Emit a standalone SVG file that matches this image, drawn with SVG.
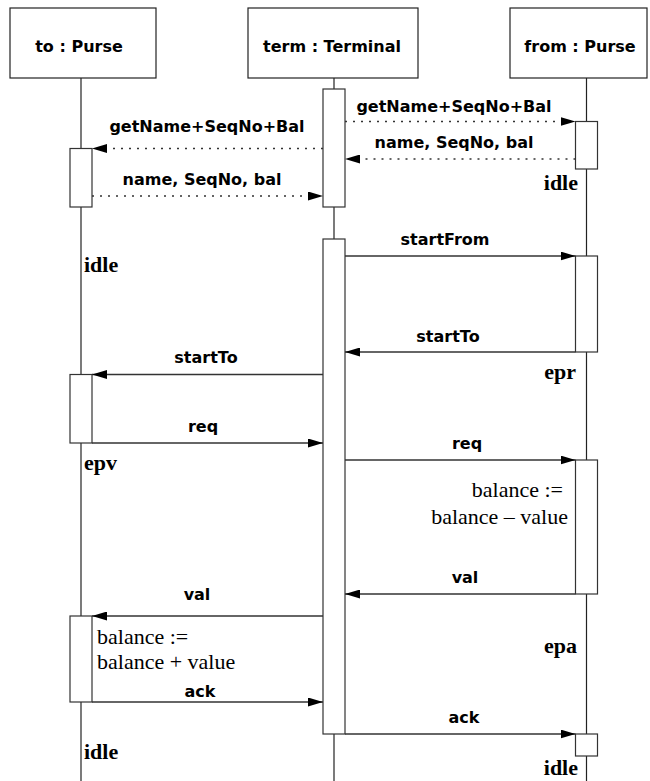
<svg xmlns="http://www.w3.org/2000/svg" width="650" height="781" viewBox="0 0 650 781">
  <defs>
    <marker id="arrow" viewBox="0 0 15 9" refX="15" refY="4.5" markerWidth="15" markerHeight="9" markerUnits="userSpaceOnUse" orient="auto">
      <path d="M0,0 L15,4.5 L0,9 z" fill="#000"/>
    </marker>
    <style>
      .head { fill: #fff; stroke: #222; stroke-width: 1.2; }
      .life { stroke: #222; stroke-width: 1.2; fill: none; }
      .act { fill: #fff; stroke: #333; stroke-width: 1.2; }
      .msg { stroke: #333; stroke-width: 1.3; fill: none; marker-end: url(#arrow); }
      .ret { stroke: #333; stroke-width: 1.3; fill: none; stroke-dasharray: 2 6; marker-end: url(#arrow); }
      .name { font-family: "DejaVu Sans", "Liberation Sans", sans-serif; font-weight: bold; font-size: 16px; fill: #000; text-anchor: middle; }
      .lbl { font-family: "DejaVu Sans", "Liberation Sans", sans-serif; font-weight: bold; font-size: 16px; fill: #000; text-anchor: middle; }
      .state { font-family: "Liberation Serif", "Times New Roman", serif; font-weight: bold; font-size: 22px; fill: #000; }
      .note { font-family: "Liberation Serif", "Times New Roman", serif; font-size: 22px; fill: #000; }
      .end { text-anchor: end; }
    </style>
  </defs>

  <rect width="650" height="781" fill="#fff"/>

  <!-- lifeline: to : Purse -->
  <g id="to">
    <rect class="head" x="10" y="8" width="146" height="70"/>
    <text class="name" x="79" y="52">to : Purse</text>
    <line class="life" x1="81" y1="78" x2="81" y2="781"/>
    <rect class="act" x="70" y="148.5" width="22" height="58.5"/>
    <rect class="act" x="70" y="374.5" width="22" height="68.5"/>
    <rect class="act" x="70" y="616" width="22" height="86"/>
    <text class="state" x="84" y="272">idle</text>
    <text class="state" x="84" y="470">epv</text>
    <text class="note" x="97" y="644">balance :=</text>
    <text class="note" x="97" y="669">balance + value</text>
    <text class="state" x="84" y="759">idle</text>
  </g>

  <!-- lifeline: term : Terminal -->
  <g id="term">
    <rect class="head" x="248" y="8" width="170" height="70"/>
    <text class="name" x="332" y="52">term : Terminal</text>
    <line class="life" x1="334" y1="78" x2="334" y2="781"/>
    <rect class="act" x="323" y="89" width="22" height="118"/>
    <rect class="act" x="323" y="239" width="22" height="495"/>
  </g>

  <!-- lifeline: from : Purse -->
  <g id="from">
    <rect class="head" x="510" y="8" width="137" height="70"/>
    <text class="name" x="580" y="52">from : Purse</text>
    <line class="life" x1="586.5" y1="78" x2="586.5" y2="781"/>
    <rect class="act" x="575.5" y="121.5" width="22" height="47.5"/>
    <rect class="act" x="575.5" y="256" width="22" height="96"/>
    <rect class="act" x="575.5" y="460" width="22" height="134"/>
    <rect class="act" x="575.5" y="734" width="22" height="22"/>
    <text class="state end" x="578" y="190">idle</text>
    <text class="state end" x="576" y="379">epr</text>
    <text class="note end" x="563" y="497">balance :=</text>
    <text class="note end" x="568" y="524">balance – value</text>
    <text class="state end" x="577" y="653">epa</text>
    <text class="state end" x="578" y="775">idle</text>
  </g>

  <!-- messages -->
  <g id="messages">
    <line class="ret" x1="345" y1="121.5" x2="575.5" y2="121.5"/>
    <text class="lbl" x="454" y="112">getName+SeqNo+Bal</text>

    <line class="ret" x1="575.5" y1="159" x2="345" y2="159"/>
    <text class="lbl" x="454" y="148">name, SeqNo, bal</text>

    <line class="ret" x1="323" y1="148.5" x2="92" y2="148.5"/>
    <text class="lbl" x="207" y="132">getName+SeqNo+Bal</text>

    <line class="ret" x1="92" y1="196" x2="323" y2="196"/>
    <text class="lbl" x="202" y="185">name, SeqNo, bal</text>

    <line class="msg" x1="345" y1="256" x2="575.5" y2="256"/>
    <text class="lbl" x="445" y="245">startFrom</text>

    <line class="msg" x1="575.5" y1="352" x2="345" y2="352"/>
    <text class="lbl" x="448" y="342">startTo</text>

    <line class="msg" x1="323" y1="374.5" x2="92" y2="374.5"/>
    <text class="lbl" x="206" y="363">startTo</text>

    <line class="msg" x1="92" y1="443" x2="323" y2="443"/>
    <text class="lbl" x="203" y="432">req</text>

    <line class="msg" x1="345" y1="460" x2="575.5" y2="460"/>
    <text class="lbl" x="467" y="449">req</text>

    <line class="msg" x1="575.5" y1="594" x2="345" y2="594"/>
    <text class="lbl" x="465" y="583">val</text>

    <line class="msg" x1="323" y1="616" x2="92" y2="616"/>
    <text class="lbl" x="197" y="600">val</text>

    <line class="msg" x1="92" y1="702" x2="323" y2="702"/>
    <text class="lbl" x="200" y="697">ack</text>

    <line class="msg" x1="345" y1="734" x2="575.5" y2="734"/>
    <text class="lbl" x="464" y="723">ack</text>
  </g>
</svg>
